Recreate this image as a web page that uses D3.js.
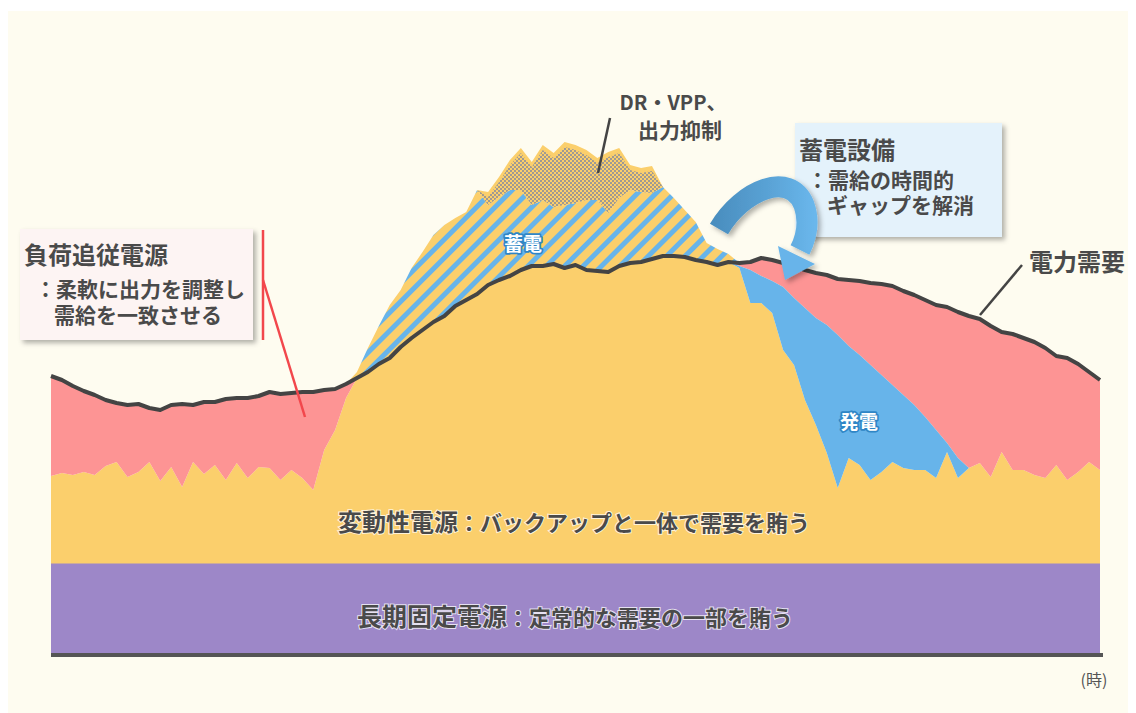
<!DOCTYPE html>
<html>
<head>
<meta charset="utf-8">
<script src="https://cdn.jsdelivr.net/npm/d3@7"></script>
<style>
  body { margin: 0; background: #ffffff; }
  text { font-family: "Noto Sans CJK JP", "Noto Sans", sans-serif; }
</style>
</head>
<body>
<div class="plot"></div>
<script>
// GLOBAL VARIABLES

var w = 1136;
var h = 713;

// hours 0-24 in quarter-hour steps
var hours = d3.range(0, 24.001, 0.25);

// long-term fixed supply (purple band)
var baseLoad = 92;

// power demand (black line)
var demand = [279,275,269,264,260,255,252,250,251,247,
              245,250,251,250,253,253,256,257,257,259,
              263,261,262,263,263,265,266,271,277,283,
              291,297,308,317,325,333,339,349,355,361,
              370,375,379,385,389,389,391,387,390,385,
              384,383,389,392,393,396,399,399,398,395,
              393,390,393,392,393,397,395,392,389,385,
              382,380,376,375,374,372,371,369,364,360,
              355,350,348,343,339,336,329,323,321,317,
              313,307,299,297,291,283,275];

// variable renewables output (top of yellow / hatched / dotted)
var vre = [179,182,180,183,180,189,193,178,183,193,
           174,188,168,193,181,190,175,192,177,188,
           187,175,185,177,165,205,225,257,283,307,
           329,350,365,387,403,420,430,437,443,465,
           463,478,495,507,493,510,502,513,510,505,
           497,503,507,490,487,489,468,457,445,433,
           412,406,401,387,352,352,342,305,290,255,
           230,202,167,197,190,175,183,193,187,185,
           185,177,203,177,187,192,178,203,185,185,
           180,177,190,175,183,193,185];

// curtailment, DR / VPP (dotted part on top)
var curtail = [0,0,0,0,0,0,0,0,0,0,
               0,0,0,0,0,0,0,0,0,0,
               0,0,0,0,0,0,0,0,0,0,
               0,0,0,0,0,0,0,0,0,0,
               13,20,30,42,43,55,54,63,58,50,
               42,61,50,25,24,27,0,0,0,0,
               0,0,0,0,0,0,0,0,0,0,
               0,0,0,0,0,0,0,0,0,0,
               0,0,0,0,0,0,0,0,0,0,
               0,0,0,0,0,0,0];

// storage discharge (blue, evening)
var discharge = [0,0,0,0,0,0,0,0,0,0,
                 0,0,0,0,0,0,0,0,0,0,
                 0,0,0,0,0,0,0,0,0,0,
                 0,0,0,0,0,0,0,0,0,0,
                 0,0,0,0,0,0,0,0,0,0,
                 0,0,0,0,0,0,0,0,0,0,
                 0,0,0,2,33,27,32,63,67,92,
                 107,128,153,112,110,115,97,77,73,65,
                 53,48,9,20,0,0,0,0,0,0,
                 0,0,0,0,0,0,0];

var data = hours.map(function (t, i) {
  return { t: t, d: demand[i], v: vre[i], c: curtail[i], s: discharge[i] };
});

// COLOURS
var cPurple = "#9d87c8";
var cYellow = "#fbcf6c";
var cPink = "#fd9494";
var cBlue = "#67b4ea";
var cText = "#4a4a4a";

var svg = d3.select(".plot").append("svg").attr("width", w).attr("height", h);

// SCALES
var xScale = d3.scaleLinear().domain([0, 24]).range([51, 1100]);
var yScale = d3.scaleLinear().domain([0, 600]).range([655, 55]);

// DEFS: patterns, shadow, gradient
var defs = svg.append("defs");

var hatch = defs.append("pattern")
  .attr("id", "hatch")
  .attr("width", 13).attr("height", 13)
  .attr("patternUnits", "userSpaceOnUse")
  .attr("patternTransform", "rotate(45)");
hatch.append("rect").attr("width", 13).attr("height", 13).attr("fill", cYellow);
hatch.append("rect").attr("width", 5).attr("height", 13).attr("fill", cBlue);

var dots = defs.append("pattern")
  .attr("id", "dots")
  .attr("width", 4).attr("height", 4)
  .attr("patternUnits", "userSpaceOnUse");
dots.append("rect").attr("width", 4).attr("height", 4).attr("fill", cYellow);
dots.append("rect").attr("width", 2).attr("height", 2).attr("fill", "#a09a92");
dots.append("rect").attr("x", 2).attr("y", 2).attr("width", 2).attr("height", 2).attr("fill", "#a09a92");

var shadow = defs.append("filter").attr("id", "shadow")
  .attr("x", "-20%").attr("y", "-20%").attr("width", "140%").attr("height", "140%");
shadow.append("feDropShadow")
  .attr("dx", 3).attr("dy", 3).attr("stdDeviation", 2.5)
  .attr("flood-color", "#000").attr("flood-opacity", 0.3);

var grad = defs.append("linearGradient").attr("id", "arrowGrad")
  .attr("gradientUnits", "userSpaceOnUse")
  .attr("x1", 715).attr("y1", 0).attr("x2", 815).attr("y2", 0);
grad.append("stop").attr("offset", "0%").attr("stop-color", "#4a8ebf");
grad.append("stop").attr("offset", "55%").attr("stop-color", "#5aa3d6");
grad.append("stop").attr("offset", "100%").attr("stop-color", "#6ab7ec");

// PANEL BACKGROUND
svg.append("rect")
  .attr("x", 8).attr("y", 11)
  .attr("width", 1120).attr("height", 702)
  .attr("fill", "#fefcf0");

// AREAS
function area(lo, hi) {
  return d3.area()
    .x(function (d) { return xScale(d.t); })
    .y0(function (d) { return yScale(lo(d)); })
    .y1(function (d) { return yScale(hi(d)); });
}

function chargeTop(d) { return Math.max(d.v - d.c, d.d); }

// long-term fixed
svg.append("path").datum(data)
  .attr("fill", cPurple)
  .attr("d", area(function () { return 0; }, function () { return baseLoad; }));

// variable renewables serving demand
svg.append("path").datum(data)
  .attr("fill", cYellow)
  .attr("d", area(function () { return baseLoad - 0.5; }, function (d) { return Math.min(d.v, d.d); }));

// load following
svg.append("path").datum(data)
  .attr("fill", cPink)
  .attr("d", area(function (d) { return Math.min(d.v + d.s, d.d); }, function (d) { return d.d; }));

// storage discharge
svg.append("path").datum(data)
  .attr("fill", cBlue)
  .attr("d", area(function (d) { return Math.min(d.v, d.d); }, function (d) { return Math.min(d.v + d.s, d.d); }));

// storage charge (hatched)
svg.append("path").datum(data)
  .attr("fill", "url(#hatch)")
  .attr("d", area(function (d) { return d.d; }, chargeTop));

// curtailment: yellow rim, dotted inside
svg.append("path").datum(data)
  .attr("fill", cYellow)
  .attr("d", area(chargeTop, function (d) { return Math.max(d.v, d.d); }));
svg.append("path").datum(data)
  .attr("fill", "url(#dots)")
  .attr("d", area(chargeTop, function (d) { return Math.max(d.v - 5, chargeTop(d)); }));

// DEMAND LINE
svg.append("path").datum(data)
  .attr("fill", "none")
  .attr("stroke", "#444")
  .attr("stroke-width", 4)
  .attr("stroke-linejoin", "round")
  .attr("d", d3.line()
    .x(function (d) { return xScale(d.t); })
    .y(function (d) { return yScale(d.d); }));

// X AXIS (baseline only)
svg.append("line")
  .attr("x1", xScale(0)).attr("x2", xScale(24) + 3)
  .attr("y1", yScale(0)).attr("y2", yScale(0))
  .attr("stroke", "#555").attr("stroke-width", 4);

svg.append("text")
  .attr("x", 1094).attr("y", 686)
  .attr("text-anchor", "middle")
  .attr("font-size", "16px")
  .attr("fill", "#555")
  .text("(時)");

// BAND LABELS
function bandLabel(x, y, big, small, bigSize, smallSize) {
  var t = svg.append("text")
    .attr("x", x).attr("y", y)
    .attr("text-anchor", "middle")
    .attr("font-weight", "bold")
    .attr("fill", cText)
    .attr("stroke", "rgba(255,255,255,0.75)")
    .attr("stroke-width", 2)
    .style("paint-order", "stroke");
  t.append("tspan").attr("font-size", bigSize).text(big);
  t.append("tspan").attr("font-size", smallSize).text(small);
}
bandLabel(574, 531, "変動性電源", "：バックアップと一体で需要を賄う", "24px", "22px");
bandLabel(575, 626, "長期固定電源", "：定常的な需要の一部を賄う", "25px", "22px");

// in-area labels
function areaLabel(x, y, s) {
  svg.append("text")
    .attr("x", x).attr("y", y)
    .attr("text-anchor", "middle")
    .attr("font-size", "19px")
    .attr("font-weight", "bold")
    .attr("fill", "#fff")
    .attr("stroke", "#2f86c6")
    .attr("stroke-width", 3.5)
    .attr("stroke-linejoin", "round")
    .style("paint-order", "stroke")
    .text(s);
}
areaLabel(523, 251, "蓄電");
areaLabel(859, 429, "発電");

// LOAD-FOLLOWING CALLOUT (left)
svg.append("rect")
  .attr("x", 20).attr("y", 229)
  .attr("width", 233).attr("height", 111)
  .attr("fill", "#fdf4f3")
  .attr("filter", "url(#shadow)");
svg.append("line")
  .attr("x1", 263).attr("y1", 230).attr("x2", 263).attr("y2", 340)
  .attr("stroke", "#f2474c").attr("stroke-width", 2.5);
svg.append("line")
  .attr("x1", 263).attr("y1", 280).attr("x2", 305).attr("y2", 417)
  .attr("stroke", "#f2474c").attr("stroke-width", 2.5);

function calloutText(x, y, size, s) {
  svg.append("text")
    .attr("x", x).attr("y", y)
    .attr("font-size", size)
    .attr("font-weight", "bold")
    .attr("fill", cText)
    .text(s);
}
calloutText(24, 264, "24px", "負荷追従電源");
calloutText(35, 297, "21px", "：柔軟に出力を調整し");
calloutText(54, 323, "21px", "需給を一致させる");

// STORAGE CALLOUT (right)
svg.append("rect")
  .attr("x", 795).attr("y", 123)
  .attr("width", 207).attr("height", 114)
  .attr("fill", "#e4f2fb")
  .attr("filter", "url(#shadow)");
calloutText(799, 159, "24px", "蓄電設備");
calloutText(807, 188, "21px", "：需給の時間的");
calloutText(827, 213, "21px", "ギャップを解消");

// curved arrow
var arrow = svg.append("g").attr("filter", "url(#shadow)");
arrow.append("path")
  .attr("d", "M719,229 C742,190 790,170 804,205 C810,222 806,238 800,250")
  .attr("fill", "none")
  .attr("stroke", "url(#arrowGrad)")
  .attr("stroke-width", 21);
arrow.append("path")
  .attr("d", "M778,246 L815,264 L785,280 Z")
  .attr("fill", "#67b4ea");

// DR / VPP
svg.append("text")
  .attr("x", 673).attr("y", 110)
  .attr("text-anchor", "middle")
  .attr("font-size", "20px").attr("font-weight", "bold")
  .attr("fill", cText)
  .text("DR・VPP、");
svg.append("text")
  .attr("x", 680).attr("y", 138)
  .attr("text-anchor", "middle")
  .attr("font-size", "21px").attr("font-weight", "bold")
  .attr("fill", cText)
  .text("出力抑制");
svg.append("line")
  .attr("x1", 610).attr("y1", 118).attr("x2", 598).attr("y2", 173)
  .attr("stroke", "#444").attr("stroke-width", 2.5);

// DEMAND LABEL
calloutText(1029, 271, "24px", "電力需要");
svg.append("line")
  .attr("x1", 1022).attr("y1", 265).attr("x2", 980).attr("y2", 315)
  .attr("stroke", "#444").attr("stroke-width", 2.5);
</script>
</body>
</html>
